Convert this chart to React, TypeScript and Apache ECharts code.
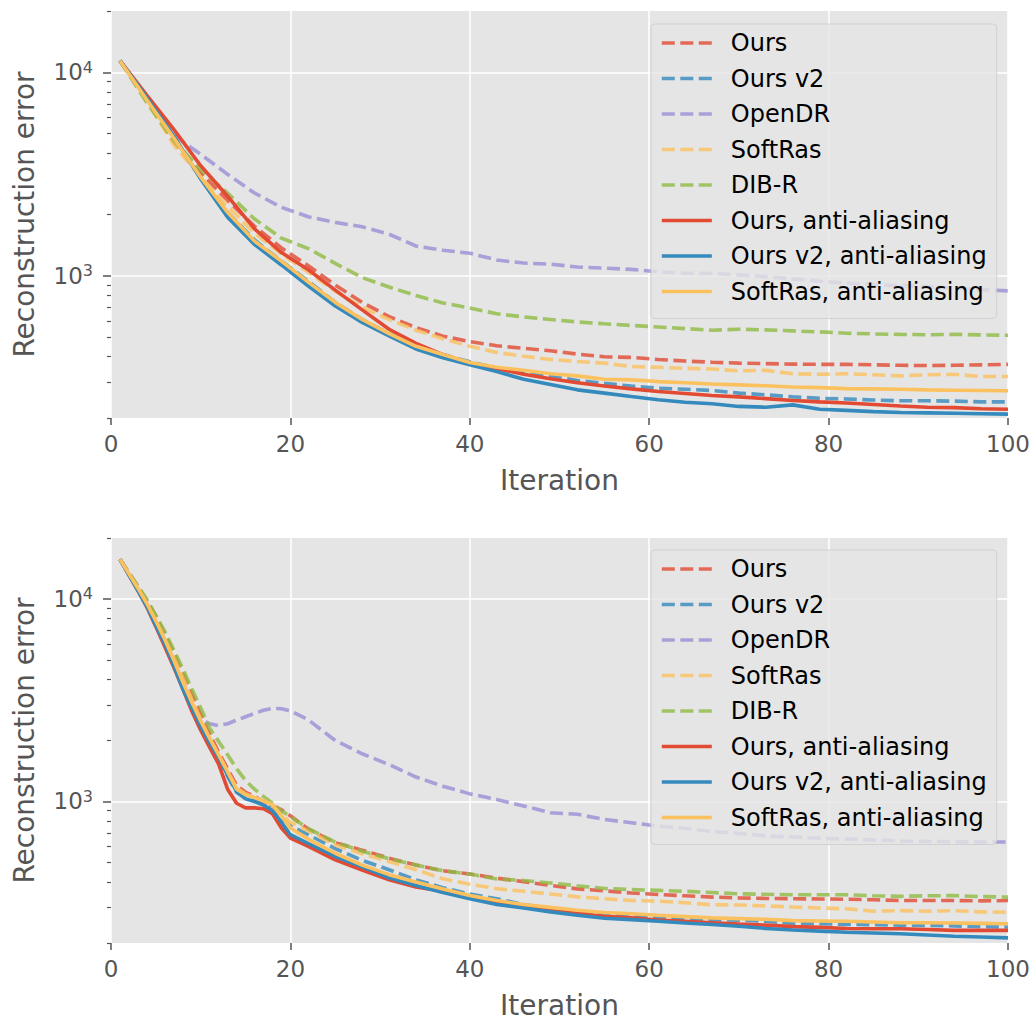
import React, { useEffect, useRef } from "react";
import * as echarts from "echarts";

const SERIES_NAMES = [
  "Ours",
  "Ours v2",
  "OpenDR",
  "SoftRas",
  "DIB-R",
  "Ours, anti-aliasing",
  "Ours v2, anti-aliasing",
  "SoftRas, anti-aliasing",
];
const SERIES_COLORS = ["#E24A33", "#348ABD", "#988ED5", "#FBC15E", "#8EBA42", "#E24A33", "#348ABD", "#FBC15E"];
const SERIES_DASHED = [true, true, true, true, true, false, false, false];

const X_TICKS = [0, 20, 40, 60, 80, 100];
const Y_MAJOR = [1000, 10000];
const Y_MINOR = [200, 300, 400, 500, 600, 700, 800, 900, 2000, 3000, 4000, 5000, 6000, 7000, 8000, 9000, 20000];

// ---- top panel ----
const ITER_TOP = [1, 4, 7, 10, 13, 16, 19, 22, 25, 28, 31, 34, 37, 40, 43, 46, 49, 52, 55, 58, 61, 64, 67, 70, 73, 76, 79, 82, 85, 88, 91, 94, 97, 100];
const TOP_OURS = [11400, 7300, 4550, 3200, 2350, 1750, 1370, 1120, 900, 740, 630, 556, 505, 475, 453, 440, 428, 412, 400, 397, 388, 381, 376, 372, 370, 368, 367, 367, 365, 363, 362, 363, 365, 367];
const TOP_OURS_V2 = [11400, 7400, 4750, 3050, 2050, 1500, 1180, 940, 740, 610, 520, 455, 410, 378, 352, 333, 321, 306, 296, 287, 280, 277, 273, 265, 260, 254, 250, 248, 245, 243, 243, 242, 240, 240];
const TOP_OPENDR = [11400, 7300, 4900, 3950, 3150, 2550, 2170, 1950, 1830, 1740, 1600, 1400, 1335, 1290, 1195, 1155, 1140, 1105, 1090, 1075, 1045, 1030, 1026, 1010, 990, 965, 940, 920, 905, 895, 885, 870, 855, 843];
const TOP_SOFTRAS = [11400, 7200, 4400, 3050, 2200, 1620, 1280, 1040, 840, 700, 610, 540, 490, 450, 420, 402, 388, 379, 372, 358, 355, 351, 348, 341, 343, 330, 328, 330, 326, 322, 326, 328, 320, 320];
const TOP_DIBR = [11400, 7080, 4630, 3320, 2550, 1900, 1530, 1360, 1150, 980, 880, 800, 735, 695, 650, 628, 610, 593, 581, 570, 560, 550, 540, 546, 542, 536, 530, 522, 518, 515, 513, 515, 512, 510];
const TOP_OURS_AA = [11400, 7700, 5240, 3470, 2460, 1700, 1300, 1070, 850, 680, 546, 465, 410, 372, 350, 328, 312, 298, 287, 278, 270, 264, 258, 254, 249, 244, 240, 237, 233, 229, 226, 225, 222, 221];
const TOP_OURS_V2_AA = [11400, 7500, 4860, 2990, 1940, 1425, 1130, 890, 710, 590, 507, 437, 395, 365, 338, 310, 292, 275, 265, 255, 246, 239, 235, 228, 226, 232, 221, 218, 215, 213, 212, 211, 210, 209];
const TOP_SOFTRAS_AA = [11400, 7300, 4750, 3050, 2050, 1480, 1180, 930, 740, 610, 520, 450, 410, 375, 355, 343, 330, 322, 310, 308, 302, 298, 294, 291, 288, 284, 282, 279, 278, 277, 275, 274, 273, 272];

// ---- bottom panel ----
const ITER_BOTTOM = [1, 2, 3, 4, 5, 6, 7, 8, 9, 10, 11, 12, 13, 14, 15, 16, 17, 18, 19, 20, 22, 25, 28, 31, 34, 37, 40, 43, 46, 49, 52, 55, 58, 61, 64, 67, 70, 73, 76, 79, 82, 85, 88, 91, 94, 97, 100];
const BOT_OURS = [15700, 13400, 11500, 9800, 8200, 6700, 5400, 4300, 3400, 2700, 2150, 1750, 1450, 1200, 1110, 1060, 1000, 950, 910, 850, 730, 625, 575, 525, 485, 455, 438, 418, 402, 385, 370, 362, 353, 347, 342, 337, 334, 332, 331, 330, 329, 327, 324, 324, 324, 323, 324];
const BOT_OURS_V2 = [15700, 13300, 11200, 9400, 7600, 6100, 4800, 3800, 3000, 2400, 1950, 1620, 1330, 1110, 1040, 1010, 980, 920, 830, 760, 685, 585, 512, 460, 410, 375, 349, 331, 310, 296, 285, 277, 272, 267, 264, 261, 259, 256, 250, 249, 247, 246, 245, 244, 243, 241, 240];
const BOT_OPENDR = [15700, 13300, 11200, 9400, 7700, 6200, 4900, 3800, 3000, 2550, 2420, 2370, 2420, 2520, 2620, 2720, 2820, 2880, 2870, 2800, 2530, 2000, 1720, 1520, 1320, 1190, 1090, 1023, 950, 880, 864, 815, 785, 755, 738, 710, 695, 676, 668, 658, 652, 645, 638, 635, 632, 631, 631];
const BOT_SOFTRAS = [15700, 13400, 11400, 9600, 8000, 6500, 5200, 4100, 3200, 2550, 2050, 1700, 1400, 1170, 1090, 1050, 1000, 940, 860, 790, 715, 610, 552, 505, 460, 415, 390, 371, 360, 349, 338, 331, 324, 322, 316, 309, 308, 305, 301, 298, 295, 287, 289, 287, 289, 285, 284];
const BOT_DIBR = [15700, 13500, 11600, 9900, 8300, 6900, 5600, 4530, 3600, 2900, 2300, 1980, 1700, 1450, 1270, 1150, 1060, 980, 900, 840, 735, 630, 568, 522, 485, 455, 438, 414, 407, 396, 383, 372, 367, 364, 360, 355, 350, 348, 346, 346, 346, 342, 340, 342, 343, 339, 337];
const BOT_OURS_AA = [15700, 13100, 11000, 9100, 7300, 5800, 4600, 3600, 2800, 2250, 1850, 1530, 1150, 980, 930, 930, 920, 870, 740, 660, 600, 515, 458, 410, 378, 360, 337, 316, 302, 290, 280, 271, 266, 260, 256, 252, 248, 245, 241, 239, 236, 235, 235, 233, 231, 231, 231];
const BOT_OURS_V2_AA = [15700, 13100, 11000, 9200, 7400, 6000, 4700, 3600, 2900, 2350, 1950, 1650, 1350, 1120, 1030, 1000, 960, 900, 790, 685, 620, 535, 476, 420, 385, 355, 331, 310, 298, 285, 274, 265, 261, 256, 251, 247, 242, 236, 232, 229, 226, 224, 222, 219, 216, 214, 212];
const BOT_SOFTRAS_AA = [15700, 13300, 11300, 9500, 7800, 6300, 5000, 3900, 3100, 2500, 2050, 1700, 1400, 1150, 1080, 1045, 1010, 965, 850, 740, 650, 555, 485, 435, 400, 370, 343, 324, 310, 300, 290, 283, 279, 274, 270, 266, 264, 262, 258, 257, 256, 254, 252, 252, 251, 250, 249];

const TOP_VALUES = [TOP_OURS, TOP_OURS_V2, TOP_OPENDR, TOP_SOFTRAS, TOP_DIBR, TOP_OURS_AA, TOP_OURS_V2_AA, TOP_SOFTRAS_AA];
const BOT_VALUES = [BOT_OURS, BOT_OURS_V2, BOT_OPENDR, BOT_SOFTRAS, BOT_DIBR, BOT_OURS_AA, BOT_OURS_V2_AA, BOT_SOFTRAS_AA];

const FONT = "DejaVu Sans";
const TICK_COLOR = "#555555";
const LINE_WIDTH = 3.6;
const DASH = [13, 5.5];

function buildOption() {
  const grids = [
    { left: 111, top: 11, width: 897, height: 407 },
    { left: 111, top: 538, width: 897, height: 405 },
  ].map((g) => ({ ...g, show: true, backgroundColor: "#E5E5E5", borderWidth: 0, containLabel: false }));

  const xAxes = [0, 1].map((gi) => ({
    type: "value",
    gridIndex: gi,
    min: 0,
    max: 100,
    interval: 20,
    name: "Iteration",
    nameLocation: "middle",
    nameGap: 48,
    nameTextStyle: { fontSize: 28, color: TICK_COLOR, fontFamily: FONT },
    axisLine: { show: false },
    axisTick: { show: true, length: 7, lineStyle: { color: TICK_COLOR, width: 1.5 } },
    axisLabel: {
      fontSize: 23,
      color: TICK_COLOR,
      fontFamily: FONT,
      margin: 14,
      formatter: (v: number) => (X_TICKS.includes(v) ? String(v) : ""),
    },
    splitLine: { show: true, lineStyle: { color: "#FFFFFF", width: 1.5 } },
  }));

  const yAxes: any[] = [];
  [0, 1].forEach((gi) => {
    yAxes.push({
      type: "log",
      logBase: 10,
      gridIndex: gi,
      position: "left",
      min: 200,
      max: 20000,
      name: "Reconstruction error",
      nameLocation: "middle",
      nameGap: 73,
      nameTextStyle: { fontSize: 28, color: TICK_COLOR, fontFamily: FONT },
      axisLine: { show: false },
      axisTick: { show: true, length: 8, customValues: Y_MAJOR, lineStyle: { color: TICK_COLOR, width: 1.5 } },
      axisLabel: {
        customValues: Y_MAJOR,
        margin: 18,
        formatter: (v: number) => `{b|10}{s|${Math.round(Math.log10(v))}}`,
        rich: {
          b: { fontSize: 23, color: TICK_COLOR, fontFamily: FONT, lineHeight: 26 },
          s: { fontSize: 16, color: TICK_COLOR, fontFamily: FONT, verticalAlign: "top" },
        },
      },
      splitLine: { show: true, lineStyle: { color: "#FFFFFF", width: 1.5 } },
    });
    yAxes.push({
      type: "log",
      logBase: 10,
      gridIndex: gi,
      position: "left",
      offset: 0,
      min: 200,
      max: 20000,
      axisLine: { show: false },
      axisTick: { show: true, length: 4, customValues: Y_MINOR, lineStyle: { color: TICK_COLOR, width: 1.2 } },
      axisLabel: { show: false },
      splitLine: { show: false },
    });
  });

  const series: any[] = [];
  const panels = [
    { iters: ITER_TOP, values: TOP_VALUES },
    { iters: ITER_BOTTOM, values: BOT_VALUES },
  ];
  panels.forEach((p, pi) => {
    SERIES_NAMES.forEach((name, si) => {
      const dashed = SERIES_DASHED[si];
      series.push({
        type: "line",
        name,
        xAxisIndex: pi,
        yAxisIndex: pi * 2,
        data: p.iters.map((x, k) => [x, p.values[si][k]]),
        symbol: "none",
        showSymbol: false,
        z: dashed ? 2 : 3,
        lineStyle: {
          color: SERIES_COLORS[si],
          width: LINE_WIDTH,
          type: dashed ? DASH : "solid",
          opacity: dashed ? 0.8 : 1,
          cap: "butt",
        },
        itemStyle: { color: SERIES_COLORS[si] },
        emphasis: { disabled: true },
      });
    });
  });

  const legends = [24, 550].map((top) => ({
    orient: "vertical",
    left: 651,
    top,
    data: SERIES_NAMES,
    itemWidth: 50,
    itemHeight: 14,
    itemGap: 11.5,
    padding: [7, 10, 15, 9],
    backgroundColor: "rgba(229,229,229,0.8)",
    borderColor: "rgba(204,204,204,0.8)",
    borderWidth: 1,
    borderRadius: 4,
    selectedMode: false,
    itemStyle: { opacity: 0 },
    lineStyle: { width: LINE_WIDTH },
    textStyle: { fontSize: 24, color: "#000000", fontFamily: FONT, lineHeight: 24, padding: [0, 0, 0, 14] },
  }));

  return {
    animation: false,
    backgroundColor: "#FFFFFF",
    textStyle: { fontFamily: FONT },
    grid: grids,
    xAxis: xAxes,
    yAxis: yAxes,
    legend: legends,
    series,
  };
}

export default function App() {
  const ref = useRef<HTMLDivElement>(null);
  useEffect(() => {
    if (!ref.current) return;
    const chart = echarts.init(ref.current, undefined, { renderer: "svg" });
    chart.setOption(buildOption() as any);
    return () => chart.dispose();
  }, []);
  return <div ref={ref} style={{ position: "absolute", left: 0, top: 0, width: 1035, height: 1021 }} />;
}
